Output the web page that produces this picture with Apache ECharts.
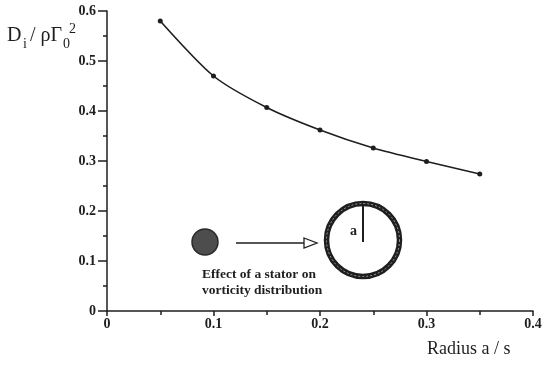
<!DOCTYPE html>
<html><head><meta charset="utf-8">
<script src="https://cdn.jsdelivr.net/npm/echarts@6/dist/echarts.min.js"></script>
<style>html,body{margin:0;padding:0;background:#fff}#c{width:546px;height:366px}</style>
</head><body><div id="c"></div>
<script>
const radius = [0.05, 0.10, 0.15, 0.20, 0.25, 0.30, 0.35];
const dissipation = [0.580, 0.470, 0.407, 0.362, 0.326, 0.299, 0.274];
const xTicks = [0, 0.1, 0.2, 0.3, 0.4];
const yTicks = [0, 0.1, 0.2, 0.3, 0.4, 0.5, 0.6];

const serif = '"Liberation Serif", "DejaVu Serif", serif';
const ink = '#1e1e1e';
const chart = echarts.init(document.getElementById('c'));

const lbl = v => {
  const r = Math.round(v * 10) / 10;
  return r === 0 ? '0' : String(r);
};

chart.setOption({
  animation: false,
  grid: { left: 107, right: 13, top: 11, bottom: 55 },
  xAxis: {
    type: 'value', min: xTicks[0], max: xTicks[xTicks.length - 1], interval: 0.1,
    axisLine: { lineStyle: { color: ink, width: 1.5 } },
    axisTick: { show: true, length: 5, lineStyle: { color: ink, width: 1.5 } },
    minorTick: { show: true, splitNumber: 2, length: 4, lineStyle: { color: ink, width: 1.5 } },
    axisLabel: { formatter: lbl, color: ink, fontFamily: serif, fontWeight: 'bold', fontSize: 14, margin: 6 },
    splitLine: { show: false }
  },
  yAxis: {
    type: 'value', min: yTicks[0], max: yTicks[yTicks.length - 1], interval: 0.1,
    axisLine: { show: true, lineStyle: { color: ink, width: 1.5 } },
    axisTick: { show: true, length: 9, lineStyle: { color: ink, width: 1.5 } },
    minorTick: { show: true, splitNumber: 2, length: 4, lineStyle: { color: ink, width: 1.5 } },
    axisLabel: { formatter: lbl, color: ink, fontFamily: serif, fontWeight: 'bold', fontSize: 14, margin: 11 },
    splitLine: { show: false }
  },
  series: [{
    type: 'line',
    data: radius.map((x, i) => [x, dissipation[i]]),
    smooth: 0.25,
    symbol: 'circle', symbolSize: 5,
    itemStyle: { color: ink },
    lineStyle: { color: ink, width: 1.6 }
  }],
  graphic: [
    // y-axis name
    { type: 'text', left: 7, top: 26, style: { text: 'D', font: '20px ' + serif, fill: ink } },
    { type: 'text', left: 23, top: 37, style: { text: 'i', font: '14px ' + serif, fill: ink } },
    { type: 'text', left: 30, top: 26, style: { text: '/ ρΓ', font: '20px ' + serif, fill: ink } },
    { type: 'text', left: 63, top: 37, style: { text: '0', font: '14px ' + serif, fill: ink } },
    { type: 'text', left: 69, top: 22, style: { text: '2', font: '14px ' + serif, fill: ink } },
    // x-axis name
    { type: 'text', left: 427, top: 340, style: { text: 'Radius a / s', font: '18px ' + serif, fill: ink } },
    // inset: vortex core
    { type: 'circle', shape: { cx: 205, cy: 242, r: 13 }, style: { fill: '#4d4d4d', stroke: '#2a2a2a', lineWidth: 1.5 } },
    // arrow
    { type: 'line', shape: { x1: 236, y1: 243, x2: 305, y2: 243 }, style: { stroke: ink, lineWidth: 1.3 } },
    { type: 'polygon', shape: { points: [[304, 238], [317, 243], [304, 248]] }, style: { fill: '#fff', stroke: ink, lineWidth: 1.3 } },
    // ring (stator)
    { type: 'circle', shape: { cx: 363, cy: 240, r: 36.5 }, style: { fill: 'none', stroke: ink, lineWidth: 5.5 } },
    { type: 'circle', shape: { cx: 363, cy: 240, r: 36.5 }, style: { fill: 'none', stroke: '#bbb', lineWidth: 0.8, lineDash: [2, 2] } },
    { type: 'line', shape: { x1: 363, y1: 206, x2: 363, y2: 242 }, style: { stroke: ink, lineWidth: 2 } },
    { type: 'text', left: 350, top: 224, style: { text: 'a', font: 'bold 14px ' + serif, fill: ink } },
    // caption
    { type: 'text', left: 202, top: 267, style: { text: 'Effect of a stator on\nvorticity distribution', font: 'bold 13.5px ' + serif, lineHeight: 16, fill: ink } }
  ]
});
</script>
</body></html>
